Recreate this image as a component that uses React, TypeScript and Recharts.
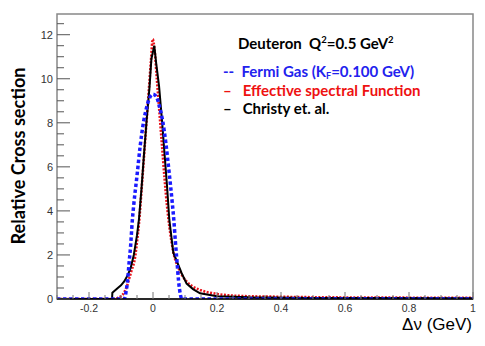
import React from 'react';
import { LineChart, Line, XAxis, YAxis, ReferenceArea } from 'recharts';

// Fermi Gas (K_F = 0.100 GeV)
const fermiX = [-0.3, -0.09, -0.087, -0.084, -0.08, -0.075, -0.07, -0.065, -0.06, -0.05, -0.04, -0.03, -0.02, -0.01, 0, 0.01, 0.02, 0.03, 0.04, 0.05, 0.06, 0.065, 0.07, 0.075, 0.08, 0.085, 0.088, 0.09, 1.0];
const fermiY = [0, 0, 0.1, 0.35, 0.75, 1.6, 2.4, 3.5, 4.3, 5.6, 6.95, 8.0, 8.7, 9.15, 9.3, 9.2, 8.75, 8.1, 7.1, 5.8, 4.4, 3.6, 2.6, 1.7, 0.8, 0.25, 0.05, 0, 0];

// Effective spectral function
const effX = [-0.3, -0.13, -0.11, -0.1, -0.09, -0.082, -0.075, -0.067, -0.056, -0.05, -0.044, -0.036, -0.028, -0.02, -0.012, -0.006, -0.001, 0.005, 0.012, 0.02, 0.028, 0.036, 0.044, 0.052, 0.064, 0.08, 0.105, 0.125, 0.147, 0.2, 0.27, 0.4, 0.6, 0.8, 1.0];
const effY = [0, 0, 0.05, 0.12, 0.3, 0.56, 0.9, 1.3, 1.9, 2.6, 3.4, 4.9, 6.5, 8.1, 9.7, 10.9, 11.8, 11.3, 10.0, 8.5, 7.0, 5.5, 4.2, 3.2, 2.1, 1.4, 0.79, 0.56, 0.41, 0.23, 0.14, 0.1, 0.07, 0.06, 0.05];

// Christy et. al.
const christyX = [-0.3, -0.128, -0.127, -0.11, -0.1, -0.09, -0.08, -0.07, -0.06, -0.05, -0.044, -0.036, -0.028, -0.02, -0.011, -0.005, 0.004, 0.01, 0.019, 0.028, 0.036, 0.044, 0.051, 0.0635, 0.0896, 0.105, 0.125, 0.147, 0.2, 0.3, 0.5, 0.75, 1.0];
const christyY = [0, 0, 0.28, 0.5, 0.62, 0.8, 1.05, 1.4, 2.0, 2.9, 3.6, 5.0, 6.6, 8.1, 9.6, 10.9, 11.5, 10.7, 9.65, 8.14, 6.6, 5.1, 3.6, 2.1, 1.17, 0.7, 0.45, 0.26, 0.13, 0.08, 0.05, 0.04, 0.03];

const xMajorTicks = [-0.2, 0, 0.2, 0.4, 0.6, 0.8, 1];
const xMajorLabels = ['-0.2', '0', '0.2', '0.4', '0.6', '0.8', '1'];
const xMinorTicks = [-0.3, -0.25, -0.15, -0.1, -0.05, 0.05, 0.1, 0.15, 0.25, 0.3, 0.35, 0.45, 0.5, 0.55, 0.65, 0.7, 0.75, 0.85, 0.9, 0.95];
const yMajorTicks = [0, 2, 4, 6, 8, 10, 12];
const yMinorTicks = [0.5, 1, 1.5, 2.5, 3, 3.5, 4.5, 5, 5.5, 6.5, 7, 7.5, 8.5, 9, 9.5, 10.5, 11, 11.5, 12.5];

const X_MIN = -0.3;
const X_MAX = 1.0;
const Y_MAX = 12.94;

const toData = (xs: number[], ys: number[]) => xs.map((x, i) => ({ x, y: ys[i] }));
const fermiData = toData(fermiX, fermiY);
const effData = toData(effX, effY);
const christyData = toData(christyX, christyY);

const near = (a: number, b: number) => Math.abs(a - b) < 1e-6;

const XTick = (props: any) => {
  const { x, y, payload } = props;
  const v = payload.value;
  const mi = xMajorTicks.findIndex((t) => near(t, v));
  const major = mi >= 0;
  return (
    <g>
      <line x1={x} y1={y} x2={x} y2={y - (major ? 7 : 4)} stroke="#777" strokeWidth={1} />
      {major && (
        <text x={x} y={y + 13} textAnchor="middle" fontSize={10.5} fill="#333" fontFamily="'Liberation Sans', Arial, sans-serif">
          {xMajorLabels[mi]}
        </text>
      )}
    </g>
  );
};

const YTick = (props: any) => {
  const { x, y, payload } = props;
  const v = payload.value;
  const major = yMajorTicks.some((t) => near(t, v));
  return (
    <g>
      <line x1={x} y1={y} x2={x + (major ? 13 : 7)} y2={y} stroke="#555" strokeWidth={1} />
      {major && (
        <text x={x - 4} y={y + 4} textAnchor="end" fontSize={11} fill="#333" fontFamily="'Liberation Sans', Arial, sans-serif">
          {String(v)}
        </text>
      )}
    </g>
  );
};

const legendFont = "Lato, 'Open Sans', sans-serif";

export default function App() {
  const allX = [...xMajorTicks, ...xMinorTicks].sort((a, b) => a - b);
  const allY = [...yMajorTicks, ...yMinorTicks].sort((a, b) => a - b);
  return (
    <div style={{ position: 'absolute', left: 0, top: 0, width: 485, height: 346, background: '#fff' }}>
      <LineChart width={485} height={346} margin={{ top: 14, right: 12, left: 0, bottom: 0 }}>
        <ReferenceArea x1={X_MIN} x2={X_MAX} y1={0} y2={Y_MAX} fill="none" stroke="#888" strokeWidth={1.5} ifOverflow="visible" />
        <XAxis
          dataKey="x"
          type="number"
          domain={[X_MIN, X_MAX]}
          ticks={allX}
          interval={0}
          allowDataOverflow
          height={47}
          tickSize={0}
          tickMargin={0}
          tickLine={false}
          axisLine={{ stroke: '#000', strokeWidth: 1.5 }}
          tick={<XTick />}
        />
        <YAxis
          dataKey="y"
          type="number"
          domain={[0, Y_MAX]}
          ticks={allY}
          interval={0}
          allowDataOverflow
          width={57}
          tickSize={0}
          tickMargin={0}
          tickLine={false}
          axisLine={false}
          tick={<YTick />}
        />
        <Line data={effData} dataKey="y" type="monotone" stroke="#e8141c" strokeWidth={2.6} strokeDasharray="2 1.5" dot={false} isAnimationActive={false} />
        <Line data={christyData} dataKey="y" type="linear" stroke="#000" strokeWidth={2} dot={false} isAnimationActive={false} />
        <Line data={fermiData} dataKey="y" type="monotone" stroke="#1a1aff" strokeWidth={3.5} strokeDasharray="3.5 2.5" dot={false} isAnimationActive={false} />
      </LineChart>
      <svg width={485} height={346} style={{ position: 'absolute', left: 0, top: 0, pointerEvents: 'none' }}>
        <text
          transform="translate(25,156) rotate(-90)"
          textAnchor="middle"
          fontSize={18}
          fontWeight={700}
          fill="#000"
          fontFamily={legendFont}
          textLength={177}
          lengthAdjust="spacingAndGlyphs"
        >
          Relative Cross section
        </text>
        <text x={472} y={330} textAnchor="end" fontSize={17} fill="#000" fontFamily="'Liberation Sans', Arial, sans-serif">
          Δν (GeV)
        </text>
        <text x={238} y={49} fontSize={15} fontWeight={700} fill="#000" fontFamily={legendFont}>
          Deuteron{'\u00a0\u00a0'}Q
          <tspan fontSize={9.5} dy={-6}>2</tspan>
          <tspan dy={6}>=0.5 GeV</tspan>
          <tspan fontSize={9.5} dy={-6}>2</tspan>
        </text>
        <text x={223} y={77} fontSize={15} fontWeight={700} fill="#2222ee" fontFamily={legendFont}>
          --{'\u00a0\u00a0'}Fermi Gas (K
          <tspan fontSize={9} dy={2}>F</tspan>
          <tspan dy={-2}>=0.100 GeV)</tspan>
        </text>
        <text x={223} y={95.5} fontSize={15} fontWeight={700} fill="#ee1111" fontFamily={legendFont}>
          –{'\u00a0\u00a0\u00a0'}Effective spectral Function
        </text>
        <text x={223} y={113.5} fontSize={15} fontWeight={700} fill="#000" fontFamily={legendFont}>
          –{'\u00a0\u00a0\u00a0'}Christy et. al.
        </text>
      </svg>
    </div>
  );
}
